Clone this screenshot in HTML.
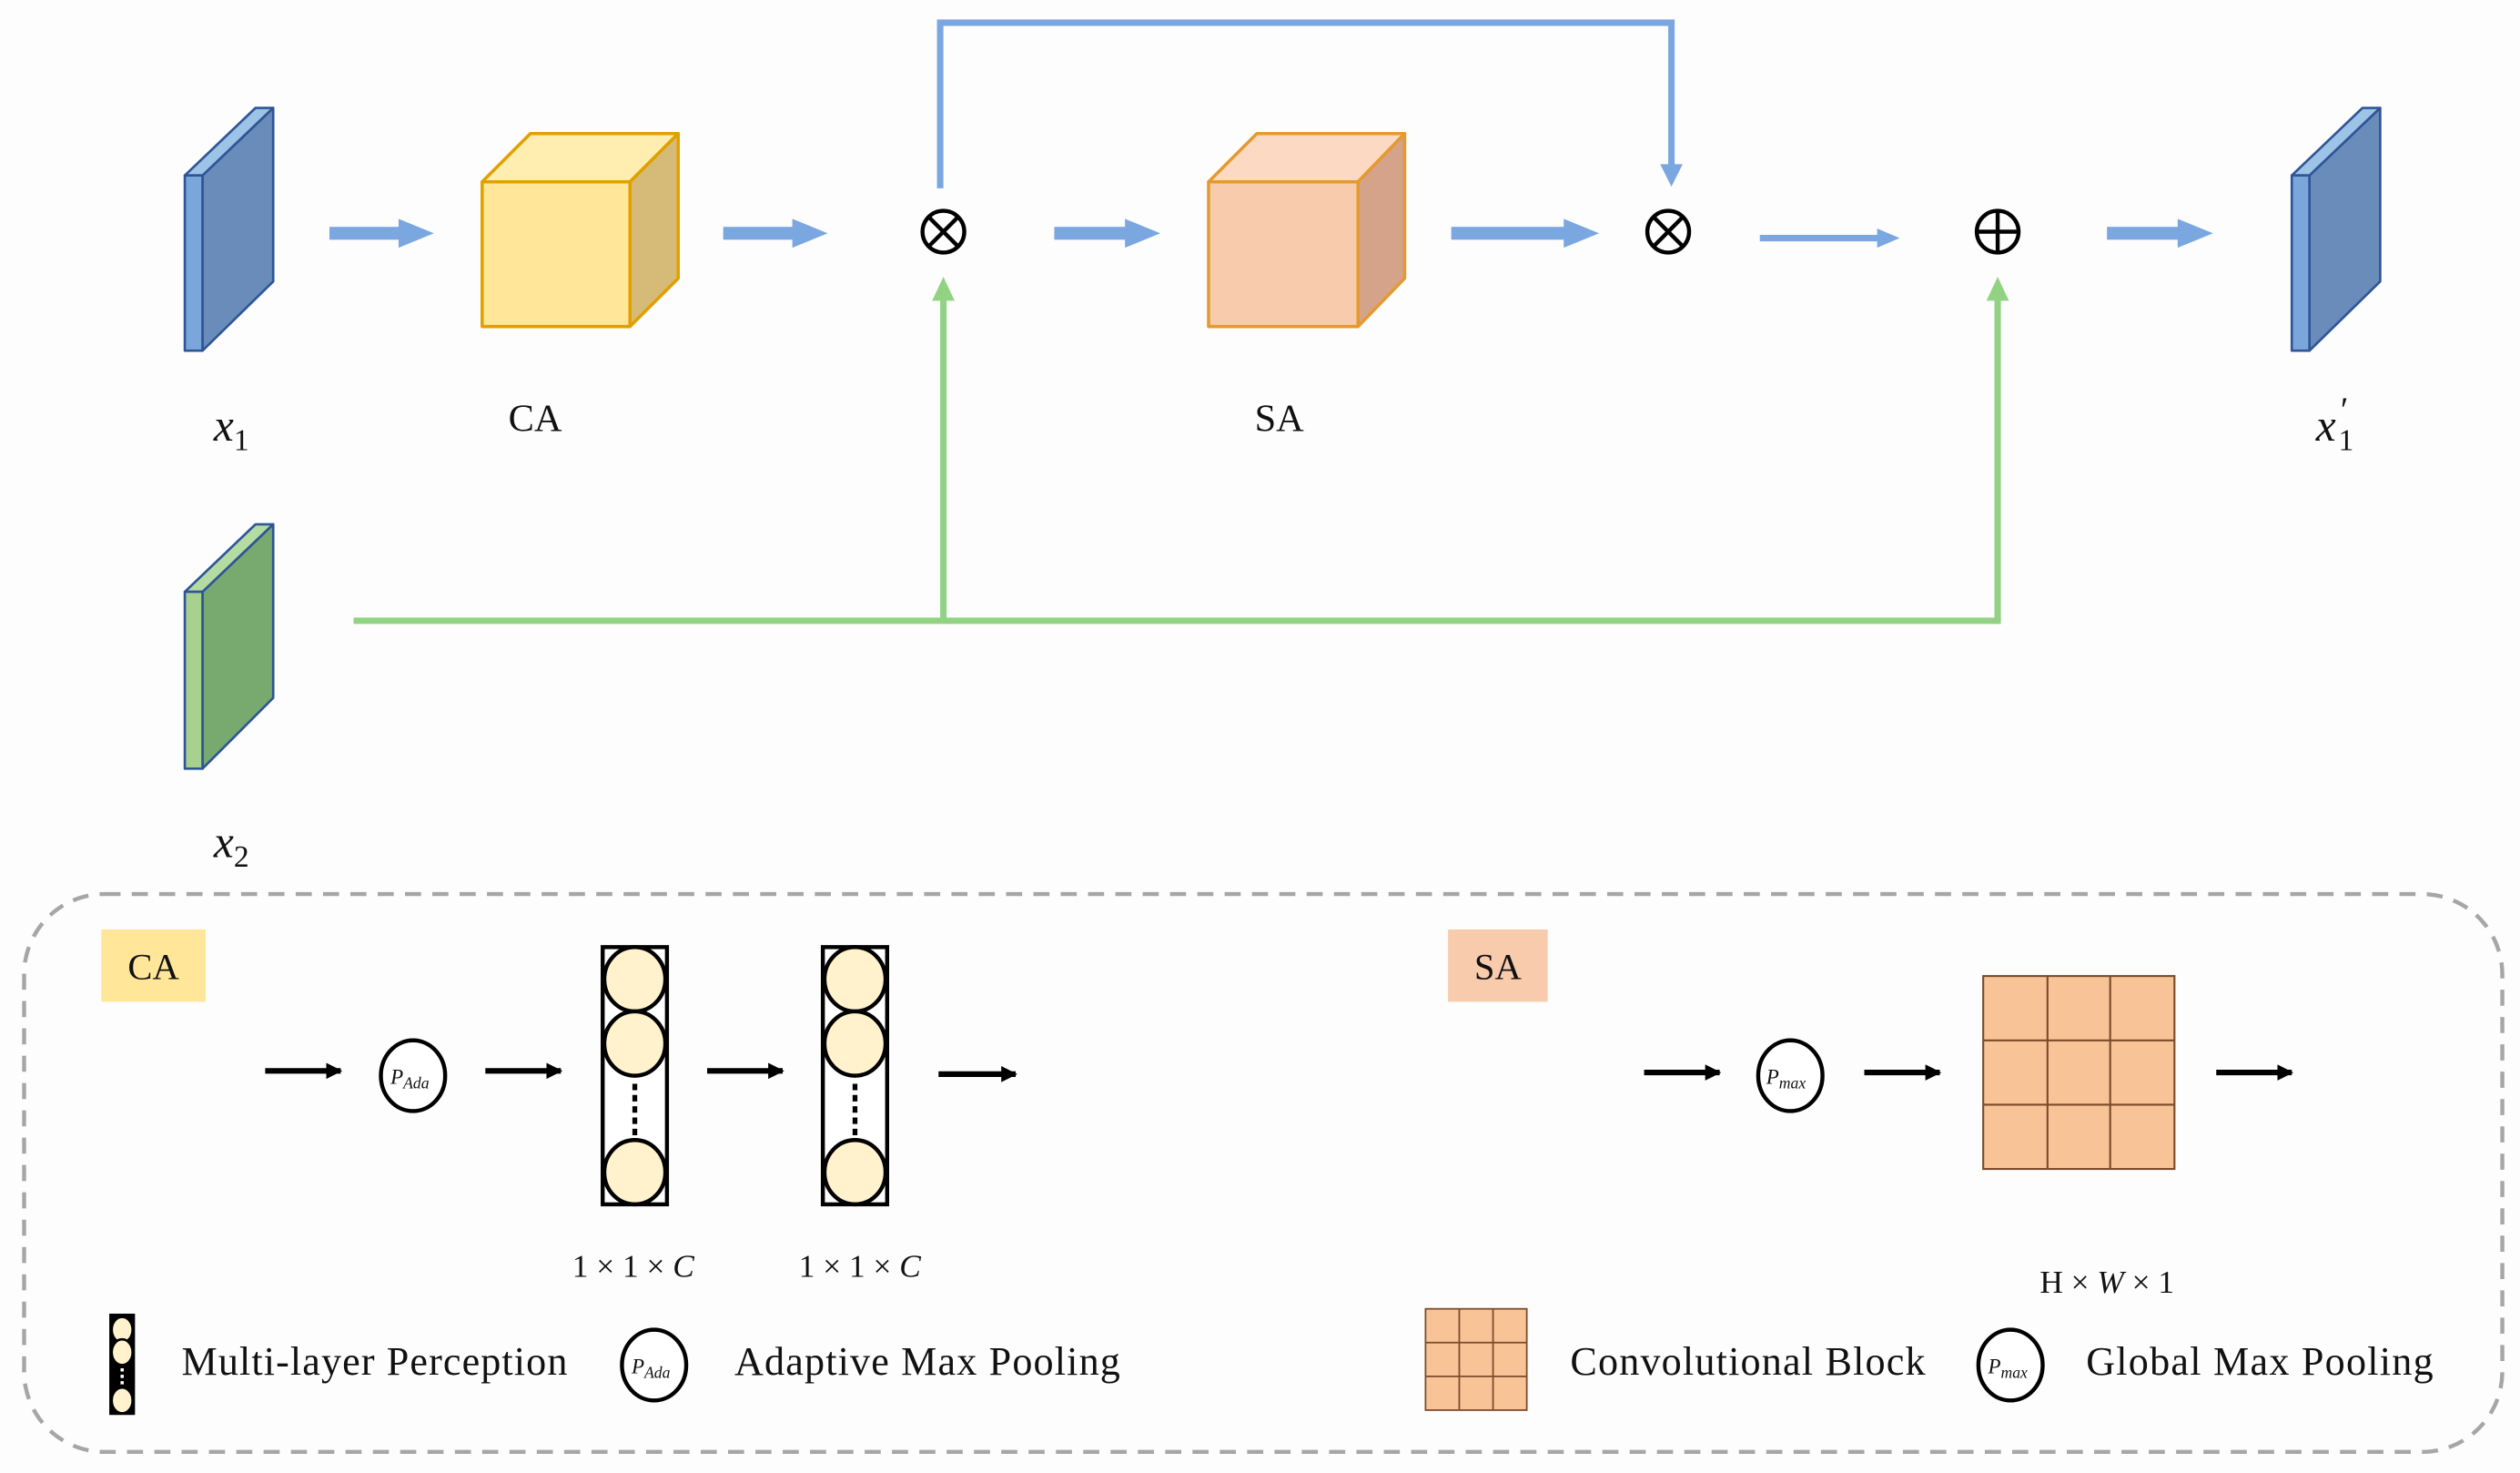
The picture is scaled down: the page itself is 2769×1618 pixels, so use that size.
<!DOCTYPE html>
<html><head><meta charset="utf-8"><style>
html,body{margin:0;padding:0;background:#fdfdfd;}
svg{display:block;}
text{font-family:"Liberation Serif",serif;fill:#111;}
</style></head><body>
<svg width="2769" height="1618" viewBox="0 0 1568 916" xmlns="http://www.w3.org/2000/svg">
<defs>
<marker id="kh" viewBox="0 0 10 10" refX="9" refY="5" markerWidth="10" markerHeight="10" markerUnits="userSpaceOnUse" orient="auto"><path d="M0,0 L10,5 L0,10z" fill="#000"/></marker>
</defs>
<rect width="1568" height="916" fill="#fdfdfd"/>

<!-- x1 slab -->
<g stroke="#2f5597" stroke-width="1.5" stroke-linejoin="round">
<polygon points="126,109 170,67 170,175 126,218" fill="#6a8cba"/>
<polygon points="115,109 159,67 170,67 126,109" fill="#9dc3e6"/>
<rect x="115" y="109" width="11" height="109" fill="#7aa6dc"/>
</g>
<!-- x1' slab -->
<g stroke="#2f5597" stroke-width="1.5" stroke-linejoin="round">
<polygon points="1437,109 1481,67 1481,175 1437,218" fill="#6a8cba"/>
<polygon points="1426,109 1470,67 1481,67 1437,109" fill="#9dc3e6"/>
<rect x="1426" y="109" width="11" height="109" fill="#7aa6dc"/>
</g>
<!-- x2 slab -->
<g stroke="#2f5597" stroke-width="1.5" stroke-linejoin="round">
<polygon points="126,368 170,326 170,434 126,478" fill="#78aa70"/>
<polygon points="115,368 159,326 170,326 126,368" fill="#b5dca0"/>
<rect x="115" y="368" width="11" height="110" fill="#a9d18e"/>
</g>

<!-- CA cube -->
<g stroke="#e0a000" stroke-width="2" stroke-linejoin="round">
<polygon points="300,113 330,83 422,83 392,113" fill="#ffeeb0"/>
<polygon points="392,113 422,83 422,173 392,203" fill="#d6bb78"/>
<rect x="300" y="113" width="92" height="90" fill="#ffe699"/>
</g>
<!-- SA cube -->
<g stroke="#e59a30" stroke-width="2" stroke-linejoin="round">
<polygon points="752,113 782,83 874,83 845,113" fill="#fcd9c2"/>
<polygon points="845,113 874,83 874,173 845,203" fill="#d5a38a"/>
<rect x="752" y="113" width="93" height="90" fill="#f8cbad"/>
</g>

<!-- blue arrows -->
<g fill="#7ba7e0">
<rect x="205" y="141" width="45" height="8"/><polygon points="248,136 270,145 248,154"/>
<rect x="450" y="141" width="45" height="8"/><polygon points="493,136 515,145 493,154"/>
<rect x="656" y="141" width="46" height="8"/><polygon points="700,136 722,145 700,154"/>
<rect x="903" y="141" width="72" height="8"/><polygon points="973,136 995,145 973,154"/>
<rect x="1311" y="141" width="46" height="8"/><polygon points="1355,136 1377,145 1355,154"/>
</g>
<line x1="1095" y1="148" x2="1170" y2="148" stroke="#7ba7e0" stroke-width="4"/>
<polygon points="1168,142 1182,148 1168,154" fill="#7ba7e0"/>
<!-- blue loop -->
<polyline points="585,117 585,14 1040,14 1040,104" fill="none" stroke="#7ba7e0" stroke-width="4"/>
<polygon points="1033,102 1047,102 1040,116" fill="#7ba7e0"/>

<!-- green -->
<g stroke="#92d283" stroke-width="4" fill="none">
<line x1="220" y1="386" x2="1245" y2="386"/>
<line x1="587" y1="386" x2="587" y2="184"/>
<line x1="1243" y1="386" x2="1243" y2="184"/>
</g>
<polygon points="580,187 594,187 587,172" fill="#92d283"/>
<polygon points="1236,187 1250,187 1243,172" fill="#92d283"/>

<!-- operators -->
<g stroke="#000" stroke-width="2.5" fill="none">
<circle cx="587" cy="144" r="13"/><line x1="578" y1="135" x2="596" y2="153"/><line x1="596" y1="135" x2="578" y2="153"/>
<circle cx="1038" cy="144" r="13"/><line x1="1029" y1="135" x2="1047" y2="153"/><line x1="1047" y1="135" x2="1029" y2="153"/>
<circle cx="1243" cy="144" r="13"/><line x1="1230" y1="144" x2="1256" y2="144"/><line x1="1243" y1="131" x2="1243" y2="157"/>
</g>

<!-- top labels -->
<text x="133" y="274" font-size="28" font-style="italic">x<tspan font-size="19" font-style="normal" dy="6">1</tspan></text>
<text x="333" y="268" font-size="24" text-anchor="middle">CA</text>
<text x="796" y="268" font-size="24" text-anchor="middle">SA</text>
<text x="1441" y="274" font-size="28" font-style="italic">x</text>
<text x="1455" y="262" font-size="22" font-style="italic">′</text>
<text x="1455" y="280" font-size="19">1</text>
<text x="133" y="533" font-size="28" font-style="italic">x<tspan font-size="19" font-style="normal" dy="6">2</tspan></text>

<!-- dashed box -->
<rect x="15" y="556" width="1542" height="347" rx="50" fill="none" stroke="#a6a6a6" stroke-width="2.5" stroke-dasharray="10,7"/>

<!-- CA detail -->
<rect x="63" y="578" width="65" height="45" fill="#ffe699"/>
<text x="95.5" y="609" font-size="23" text-anchor="middle">CA</text>
<g stroke="#000" stroke-width="3.5" marker-end="url(#kh)">
<line x1="165" y1="666" x2="212" y2="666"/>
<line x1="302" y1="666" x2="349" y2="666"/>
<line x1="440" y1="666" x2="487" y2="666"/>
<line x1="584" y1="668" x2="632" y2="668"/>
<line x1="1023" y1="667" x2="1070" y2="667"/>
<line x1="1160" y1="667" x2="1207" y2="667"/>
<line x1="1379" y1="667" x2="1426" y2="667"/>
</g>
<ellipse cx="257" cy="669" rx="20" ry="22" fill="#fff" stroke="#000" stroke-width="2.5"/>
<text x="243" y="674" font-size="13" font-style="italic">P<tspan font-size="10" dy="3">Ada</tspan></text>

<g id="mlp">
<rect x="375" y="589" width="40" height="160" fill="#fff" stroke="#000" stroke-width="2.5"/>
<g fill="#fff2cc" stroke="#000" stroke-width="2.5">
<ellipse cx="395" cy="609" rx="19" ry="20"/>
<ellipse cx="395" cy="649" rx="19" ry="20"/>
<ellipse cx="395" cy="729" rx="19" ry="20"/>
</g>
<line x1="395" y1="674" x2="395" y2="708" stroke="#000" stroke-width="3" stroke-dasharray="4,3"/>
</g>
<use href="#mlp" x="137"/>
<text x="394" y="794" font-size="20" text-anchor="middle">1 × 1 × <tspan font-style="italic">C</tspan></text>
<text x="535" y="794" font-size="20" text-anchor="middle">1 × 1 × <tspan font-style="italic">C</tspan></text>

<!-- legend CA -->
<rect x="68" y="817" width="16" height="63" fill="#000"/>
<g fill="#fff2cc" stroke="#000" stroke-width="1.5">
<ellipse cx="76" cy="827" rx="6.5" ry="8"/><ellipse cx="76" cy="841" rx="6.5" ry="8"/><ellipse cx="76" cy="871" rx="6.5" ry="8"/>
</g>
<line x1="76" y1="851" x2="76" y2="862" stroke="#fff" stroke-width="2" stroke-dasharray="2,2"/>
<text x="113" y="855" font-size="25" textLength="240">Multi-layer Perception</text>
<ellipse cx="407" cy="849" rx="20" ry="22" fill="#fff" stroke="#000" stroke-width="2.5"/>
<text x="393" y="854" font-size="13" font-style="italic">P<tspan font-size="10" dy="3">Ada</tspan></text>
<text x="457" y="855" font-size="25" textLength="240">Adaptive Max Pooling</text>

<!-- SA detail -->
<rect x="901" y="578" width="62" height="45" fill="#f8cbad"/>
<text x="932" y="609" font-size="23" text-anchor="middle">SA</text>
<ellipse cx="1114" cy="669" rx="20" ry="22" fill="#fff" stroke="#000" stroke-width="2.5"/>
<text x="1099" y="674" font-size="13" font-style="italic">P<tspan font-size="10" dy="3">max</tspan></text>
<g stroke="#7a4a2a" stroke-width="1.2" fill="none">
<rect x="1234" y="607" width="119" height="120" fill="#f8c497"/>
<line x1="1274" y1="607" x2="1274" y2="727"/><line x1="1313" y1="607" x2="1313" y2="727"/>
<line x1="1234" y1="647" x2="1353" y2="647"/><line x1="1234" y1="687" x2="1353" y2="687"/>
</g>
<text x="1311" y="804" font-size="20" text-anchor="middle">H × <tspan font-style="italic">W</tspan> × 1</text>

<g stroke="#7a4a2a" stroke-width="1" fill="none">
<rect x="887" y="814" width="63" height="63" fill="#f8c497"/>
<line x1="908" y1="814" x2="908" y2="877"/><line x1="929" y1="814" x2="929" y2="877"/>
<line x1="887" y1="835" x2="950" y2="835"/><line x1="887" y1="856" x2="950" y2="856"/>
</g>
<text x="977" y="855" font-size="25" textLength="221">Convolutional Block</text>
<ellipse cx="1251" cy="849" rx="20" ry="22" fill="#fff" stroke="#000" stroke-width="2.5"/>
<text x="1237" y="854" font-size="13" font-style="italic">P<tspan font-size="10" dy="3">max</tspan></text>
<text x="1298" y="855" font-size="25" textLength="216">Global Max Pooling</text>
</svg>
</body></html>
